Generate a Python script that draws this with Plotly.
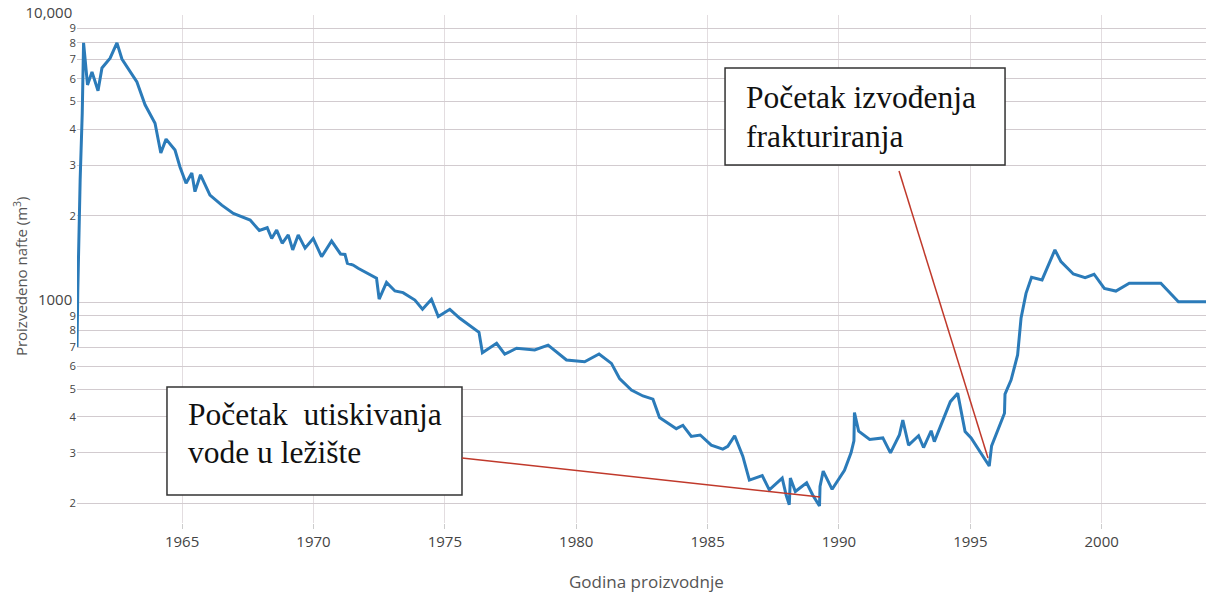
import plotly.graph_objects as go

# Oil production data
years = [
    1961.00, 1961.03, 1961.12, 1961.20, 1961.25, 1961.40, 1961.57, 1961.80, 1961.95,
    1962.26, 1962.52, 1962.71, 1963.28, 1963.59, 1963.97, 1964.19, 1964.39, 1964.73,
    1964.92, 1965.15, 1965.37, 1965.49, 1965.70, 1966.06, 1966.51, 1966.95, 1967.59,
    1967.94, 1968.24, 1968.41, 1968.60, 1968.81, 1969.04, 1969.21, 1969.42, 1969.68,
    1969.99, 1970.31, 1970.69, 1971.03, 1971.20, 1971.29, 1971.51, 1971.70, 1972.40,
    1972.50, 1972.78, 1973.10, 1973.41, 1973.86, 1974.15, 1974.49, 1974.75, 1975.19,
    1975.57, 1976.30, 1976.43, 1976.97, 1977.28, 1977.73, 1978.42, 1978.93, 1979.63,
    1980.32, 1980.87, 1981.34, 1981.65, 1982.10, 1982.54, 1982.92, 1983.17, 1983.81,
    1984.06, 1984.38, 1984.72, 1985.14, 1985.58, 1985.77, 1986.03, 1986.34, 1986.59,
    1987.08, 1987.35, 1987.84, 1987.99, 1988.11, 1988.15, 1988.34, 1988.77, 1989.00,
    1989.26, 1989.28, 1989.40, 1989.74, 1990.21, 1990.46, 1990.57, 1990.59, 1990.75,
    1991.17, 1991.67, 1991.96, 1992.30, 1992.43, 1992.65, 1993.03, 1993.22, 1993.51,
    1993.63, 1994.01, 1994.24, 1994.52, 1994.80, 1995.03, 1995.41, 1995.72, 1995.81,
    1996.08, 1996.30, 1996.32, 1996.55, 1996.80, 1996.93, 1997.12, 1997.33, 1997.73,
    1998.22, 1998.45, 1998.92, 1999.37, 1999.71, 2000.10, 2000.54, 2001.05, 2002.25,
    2002.92, 2004.00,
]
production = [
    700, 1100, 2670, 4560, 8000, 5710, 6340, 5450, 6540,
    7080, 8000, 7030, 5850, 4870, 4200, 3310, 3700, 3390,
    2960, 2600, 2820, 2430, 2780, 2365, 2180, 2040, 1935,
    1780, 1820, 1670, 1786, 1607, 1718, 1524, 1718, 1545,
    1670, 1443, 1636, 1475, 1470, 1369, 1350, 1315, 1214,
    1028, 1175, 1097, 1082, 1020, 947, 1026, 893, 947,
    881, 788, 669, 721, 661, 693, 684, 711, 631,
    622, 662, 614, 544, 496, 473, 461, 398, 364,
    374, 342, 346, 319, 309, 316, 344, 292, 241,
    250, 223, 245, 214, 198, 245, 220, 236, 214,
    196, 229, 259, 224, 261, 300, 330, 414, 357,
    334, 338, 300, 346, 390, 319, 344, 313, 358,
    328, 401, 452, 483, 356, 338, 299, 270, 317,
    368, 412, 480, 537, 657, 881, 1076, 1224, 1198,
    1524, 1387, 1256, 1220, 1254, 1120, 1096, 1166, 1166,
    1006, 1006,
]

x_title = "Godina proizvodnje"
y_title = "Proizvedeno nafte (m<sup>3</sup>)"
note_water_lines = ["Početak\u00a0 utiskivanja", "vode u ležište"]
note_frac_lines = ["Početak izvođenja", "frakturiranja"]

fig = go.Figure()
fig.add_trace(go.Scatter(
    x=years, y=production, mode="lines",
    line=dict(color="#2b7bb9", width=3),
))

serif = "Liberation Serif, Times New Roman, serif"
box_line = dict(color="#333333", width=1.5)
arrow_line = dict(color="#c0392b", width=1.5)

shapes = [
    dict(type="rect", xref="paper", yref="paper", x0=0.0797, x1=0.3410, y0=0.0551, y1=0.2677,
         line=box_line, fillcolor="white", layer="above"),
    dict(type="rect", xref="paper", yref="paper", x0=0.5740, x1=0.8220, y0=0.7047, y1=0.8957,
         line=box_line, fillcolor="white", layer="above"),
    dict(type="line", xref="paper", yref="paper", x0=0.3410, y0=0.1280, x1=0.6581, y1=0.0512,
         line=arrow_line, layer="above"),
    dict(type="line", xref="paper", yref="paper", x0=0.7281, y0=0.6929, x1=0.8069, y1=0.1280,
         line=arrow_line, layer="above"),
]

note_font = dict(family=serif, size=31.5, color="#111111")
annotations = []
for txt, xp, yp in [
    (note_water_lines[0], 0.0972, 0.2138),
    (note_water_lines[1], 0.0972, 0.1384),
    (note_frac_lines[0], 0.5917, 0.8372),
    (note_frac_lines[1], 0.5917, 0.7616),
]:
    annotations.append(dict(text=txt, xref="paper", yref="paper", x=xp, y=yp,
                            xanchor="left", yanchor="middle", align="left",
                            showarrow=False, borderpad=0, font=note_font))

# axis titles placed as annotations for exact positioning
annotations.append(dict(text=x_title, xref="paper", yref="paper", x=0.504, y=-0.116,
                        xanchor="center", yanchor="middle", showarrow=False,
                        font=dict(family="Open Sans, sans-serif", size=17, color="#555555")))
annotations.append(dict(text=y_title, xref="paper", yref="paper", x=-0.0505, y=0.486,
                        xanchor="center", yanchor="middle", textangle=-90,
                        showarrow=False, font=dict(family="Open Sans, sans-serif",
                                                   size=15, color="#555555")))

fig.update_layout(
    width=1206, height=593,
    margin=dict(l=77, r=0, t=15, b=70),
    plot_bgcolor="white", paper_bgcolor="white",
    showlegend=False,
    hovermode=False,
    font=dict(family="Open Sans, sans-serif", color="#444444", size=15),
    shapes=shapes,
    annotations=annotations,
    xaxis=dict(
        range=[1961.0, 2003.97],
        tick0=1965, dtick=5,
        showgrid=True, gridcolor="#e3dde0", gridwidth=1,
        ticks="outside", ticklen=5, tickcolor="#cccccc",
        tickfont=dict(size=15, color="#444444"),
        zeroline=False, showline=False,
    ),
    yaxis=dict(
        type="log",
        range=[2.233, 4.0],
        dtick="D1",
        exponentformat="none",
        ticklabeloverflow="allow",
        showgrid=True, gridcolor="#d2cbcf", gridwidth=1,
        ticks="",
        tickfont=dict(size=15, color="#444444"),
        zeroline=False, showline=False,
    ),
)

fig.write_html(
    "out.html",
    config={"displayModeBar": False},
    post_script="document.body.style.margin='0';document.body.style.overflow='hidden';",
)
